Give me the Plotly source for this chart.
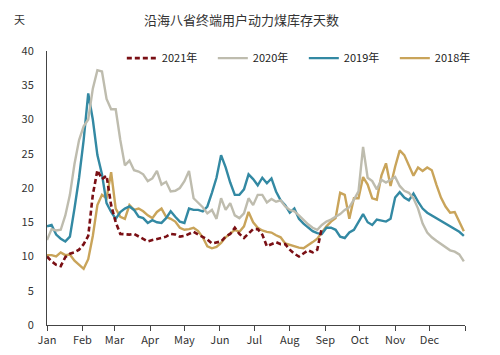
import plotly.graph_objects as go

# x grid: day of year (every 4 days)
day_of_year = list(range(0, 365, 4))

month_ticks = [0, 31, 59, 90, 120, 151, 181, 212, 243, 273, 304, 334, 365]
month_labels = ["Jan", "Feb", "Mar", "Apr", "May", "Jun", "Jul", "Aug",
                "Sep", "Oct", "Nov", "Dec", ""]

y2021 = [10.0, 9.3, 8.8, 8.6, 9.9, 10.4, 10.6, 11.0, 11.8, 13.0,
         19.0, 22.6, 21.3, 21.8, 17.5, 15.0, 13.3, 13.2, 13.2, 13.3,
         12.9, 12.5, 12.2, 12.4, 12.5, 12.7, 12.9, 13.3, 13.2, 12.9,
         13.0, 13.3, 13.6, 13.2, 12.9, 12.5, 11.9, 12.0, 12.2, 12.9,
         13.3, 14.2, 13.3, 12.7, 13.4, 14.0, 14.0, 13.2, 11.5, 11.8,
         12.1, 11.8, 11.8, 11.0, 10.4, 10.0, 10.4, 10.9, 10.6, 11.0,
         14.2]

y2020 = [12.4, 14.0, 13.8, 13.9, 16.0, 19.0, 23.5, 27.0, 29.0, 30.0,
         34.5, 37.2, 37.0, 33.0, 31.5, 31.5, 27.0, 23.3, 24.0, 22.6,
         22.4, 22.0, 21.0, 21.4, 22.5, 20.5, 20.9, 19.5, 19.6, 20.0,
         21.0, 22.5, 18.5, 17.8, 17.2, 16.3, 16.8, 15.5, 18.5, 16.8,
         17.8, 16.0, 15.6, 16.3, 18.5, 17.5, 19.0, 19.0, 17.9, 18.4,
         18.0, 18.2, 17.3, 16.8, 16.6, 16.0, 15.3, 14.7, 14.2, 13.9,
         14.6, 15.1, 15.4, 15.8, 16.2, 16.8, 17.2, 18.3, 19.5, 26.0,
         21.5, 21.0, 19.8, 21.2, 20.8, 21.2, 21.6, 20.3, 19.6, 19.3,
         18.5, 17.0, 14.8, 13.5, 12.8, 12.3, 11.8, 11.4, 10.9, 10.7,
         10.3, 9.3]

y2019 = [14.4, 14.6, 13.2, 12.6, 12.2, 12.9, 17.0, 21.5, 27.0, 33.8,
         30.0, 24.8, 22.0, 17.8, 16.5, 15.5, 16.5, 17.0, 17.3, 16.8,
         15.8, 15.6, 14.9, 15.3, 15.0, 14.9, 15.6, 16.6, 15.8, 15.1,
         14.9, 17.0, 16.8, 16.8, 16.6, 17.3, 19.3, 21.5, 24.8, 23.0,
         20.8, 19.0, 19.0, 19.8, 22.0, 21.3, 20.4, 21.5, 20.7, 21.4,
         19.5, 18.2, 17.5, 16.4, 17.0, 15.5, 14.8, 14.2, 13.7, 13.4,
         13.3, 14.2, 14.2, 13.9, 12.9, 12.7, 13.5, 13.9, 15.1, 16.2,
         15.0, 14.6, 15.4, 15.3, 15.1, 15.5, 18.6, 19.4, 18.6, 18.2,
         19.2, 18.0, 17.0, 16.4, 16.0, 15.5, 15.2, 14.7, 14.4, 13.9,
         13.6, 13.0]

y2018 = [10.2, 10.2, 10.0, 10.6, 10.2, 10.3, 9.4, 8.8, 8.2, 9.6,
         13.0, 17.5, 19.0, 18.5, 22.3, 17.0, 15.8, 15.5, 17.5, 16.8,
         17.0, 16.6, 16.0, 15.6, 16.5, 17.0, 15.8, 15.5, 15.1, 14.2,
         13.9, 14.0, 14.2, 13.7, 12.8, 11.5, 11.2, 11.4, 12.0, 12.8,
         13.4, 13.9, 13.6, 14.4, 16.5, 15.0, 14.2, 13.8, 13.6, 13.5,
         13.1, 12.8, 11.9, 11.7, 11.4, 11.3, 11.2, 11.6, 12.1, 12.6,
         13.5, 14.4, 15.1, 15.6, 19.3, 19.0, 15.5, 18.5, 18.5, 21.6,
         20.5, 18.5, 18.3, 21.8, 23.6, 20.3, 23.1, 25.5, 24.8, 23.3,
         21.8, 23.0, 22.5, 23.0, 22.6, 20.5, 18.6, 17.3, 16.4, 16.5,
         15.0, 13.7]

series = [
    ("2021年", y2021, "#7A0F14", "5px,3px", 2.6),
    ("2020年", y2020, "#BEBCAE", "solid", 2.4),
    ("2019年", y2019, "#3389A3", "solid", 2.4),
    ("2018年", y2018, "#C9A45A", "solid", 2.4),
]

fig = go.Figure()
order = [3, 2, 1, 0]
for i in order:
    name, vals, color, dash, w = series[i]
    fig.add_trace(go.Scatter(
        x=day_of_year[:len(vals)], y=vals, name=name, mode="lines",
        line=dict(color=color, width=w, dash=dash),
        legendrank=i + 1,
    ))

font_family = "Noto Sans CJK SC, Noto Sans, sans-serif"

fig.update_layout(
    width=492, height=347,
    margin=dict(l=39, r=35, t=43, b=30, autoexpand=False),
    paper_bgcolor="white", plot_bgcolor="white",
    font=dict(family=font_family, size=11, color="#333333"),
    showlegend=True,
    legend=dict(orientation="h", x=0.179, y=0.974,
                xanchor="left", yanchor="middle", bgcolor="rgba(0,0,0,0)",
                font=dict(size=11, color="#222222"),
                traceorder="normal", entrywidth=46, entrywidthmode="pixels"),
    xaxis=dict(range=[0, 365], tickmode="array", tickvals=month_ticks,
               ticktext=month_labels, showgrid=False, zeroline=False,
               showline=True, linecolor="#444444", linewidth=1,
               ticks="outside", ticklen=5, tickcolor="#444444",
               automargin=False,
               tickfont=dict(size=11, color="#333333")),
    yaxis=dict(range=[0, 40], tickmode="array",
               tickvals=[0, 5, 10, 15, 20, 25, 30, 35, 40],
               showgrid=False, zeroline=False, showline=True,
               linecolor="#444444", linewidth=1, ticks="",
               ticklabelstandoff=10, automargin=False,
               tickfont=dict(size=11, color="#333333")),
    annotations=[
        dict(text="沿海八省终端用户动力煤库存天数", xref="paper", yref="paper",
             x=0.465, y=1.115, xanchor="center", yanchor="middle",
             showarrow=False, font=dict(size=13, color="#333333")),
        dict(text="天", xref="paper", yref="paper", x=-0.065, y=1.117,
             xanchor="center", yanchor="middle", showarrow=False,
             font=dict(size=11, color="#333333")),
    ],
)

fig.write_html("out.html")
